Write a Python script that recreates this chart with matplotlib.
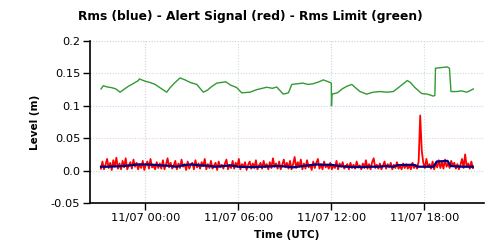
import matplotlib
matplotlib.use("Agg")
import matplotlib.pyplot as plt
import matplotlib.dates as mdates
import numpy as np
import pandas as pd

# hours relative to 11/07 00:00 (UTC)
base = pd.Timestamp("2023-11-07 00:00")

# Rms Limit (green)
limit_h = [-2.86, -2.71, -2.45, -2.17, -1.9, -1.63, -1.4, -1.1, -0.8, -0.45, -0.39,
           -0.02, 0.3, 0.63, 1.0, 1.38, 1.6, 1.92, 2.24, 2.56, 2.9, 3.32, 3.74,
           4.0, 4.3, 4.61, 5.19, 5.5, 5.9, 6.22, 6.75, 7.2, 7.83, 8.2, 8.48,
           8.9, 9.23, 9.45, 9.8, 10.17, 10.5, 10.82, 11.2, 11.48, 11.92, 12.0,
           12.01, 12.04, 12.39, 12.7, 12.99, 13.32, 13.6, 13.85, 14.28, 14.7,
           15.14, 15.6, 16.0, 16.43, 16.9, 17.1, 17.4, 17.83, 18.2, 18.58, 18.68,
           18.72, 19.1, 19.48, 19.62, 19.72, 20.09, 20.4, 20.74, 21.0, 21.16]
limit_v = [0.126, 0.131, 0.129, 0.128, 0.126, 0.121, 0.125, 0.130, 0.134, 0.139, 0.1415,
           0.138, 0.136, 0.133, 0.127, 0.121, 0.128, 0.136, 0.143, 0.140, 0.136, 0.133, 0.121,
           0.124, 0.130, 0.135, 0.137, 0.132, 0.128, 0.120, 0.121, 0.125, 0.1286, 0.127, 0.129,
           0.118, 0.120, 0.133, 0.134, 0.135, 0.133, 0.134, 0.137, 0.140, 0.136, 0.135,
           0.100, 0.118, 0.120, 0.126, 0.130, 0.133, 0.127, 0.122, 0.118, 0.121,
           0.122, 0.121, 0.122, 0.130, 0.139, 0.136, 0.128, 0.119, 0.118, 0.115, 0.116,
           0.158, 0.159, 0.160, 0.158, 0.122, 0.122, 0.123, 0.121, 0.124, 0.126]

# Rms (blue)
rms_h = [-2.86, -2.5, -2.0, -1.5, -1.0, -0.5, 0.0, 0.5, 1.0, 1.5, 2.0, 2.5, 3.0, 3.5,
         4.0, 4.5, 5.0, 5.5, 6.0, 6.5, 7.0, 7.5, 8.0, 8.5, 9.0, 9.5, 10.0, 10.5, 11.0,
         11.5, 12.0, 12.5, 13.0, 13.5, 14.0, 14.5, 15.0, 15.5, 16.0, 16.3, 17.3, 17.6,
         18.6, 18.8, 19.5, 19.7, 20.5, 21.13]
rms_v = [0.006, 0.006, 0.0065, 0.007, 0.008, 0.0095, 0.0095, 0.009, 0.008, 0.0075, 0.006,
         0.0085, 0.0095, 0.008, 0.0075, 0.006, 0.007, 0.008, 0.006, 0.0055, 0.0055, 0.006,
         0.0065, 0.007, 0.0065, 0.005, 0.0065, 0.008, 0.0095, 0.009, 0.009, 0.007, 0.006,
         0.0055, 0.0055, 0.006, 0.006, 0.007, 0.006, 0.0085, 0.009, 0.006,
         0.006, 0.014, 0.015, 0.007, 0.006, 0.006]

# Alert Signal (red), mm, one sample every 6 minutes from 11/06 21:08
alert_start = pd.Timestamp("2023-11-06 21:08")
alert_mm = [3, 14, 2, 9, 18, 4, 12, 1, 16, 6, 20, 3, 11, 2, 15, 5, 19, 2, 8, 13,
            3, 17, 6, 12, 2, 10, 4, 15, 1, 9, 14, 3, 18, 5, 7, 2, 13, 4, 11, 3,
            16, 2, 9, 19, 5, 12, 3, 8, 15, 2, 11, 4, 17, 6, 10, 1, 14, 3, 9, 12,
            2, 16, 5, 11, 3, 13, 7, 18, 2, 10, 4, 15, 3, 8, 12, 1, 14, 5, 9, 3,
            11, 17, 2, 9, 4, 15, 3, 12, 6, 18, 2, 10, 5, 13, 1, 9, 14, 3, 11, 4,
            16, 2, 8, 12, 3, 15, 5, 10, 2, 13, 4, 19, 6, 11, 3, 14, 2, 9, 17, 5,
            12, 3, 15, 2, 10, 21, 4, 13, 6, 17, 2, 11, 3, 16, 5, 9, 1, 14, 4, 12,
            18, 3, 10, 2, 14, 5, 9, 3, 12, 2, 8, 4, 15, 2, 11, 6, 13, 3, 7, 10,
            2, 12, 4, 9, 3, 14, 5, 8, 2, 11, 4, 16, 3, 10, 2, 13, 19, 4, 9, 3,
            11, 2, 8, 14, 3, 10, 5, 12, 2, 9, 4, 13, 3, 7, 2, 11, 4, 10, 3, 8,
            2, 12, 4, 9, 3, 14, 85, 31, 12, 4, 18, 6, 10, 3, 14, 2, 11, 5, 16, 4,
            13, 3, 17, 6, 11, 4, 15, 8, 12, 3, 10, 2, 9, 18, 4, 25, 6, 11, 3, 14, 4]

y_ticks = [-0.05, 0.0, 0.05, 0.1, 0.15, 0.2]
y_labels = ["-0.05", "0.0", "0.05", "0.1", "0.15", "0.2"]
grid_colors = ["#c8e2c8", "#f0c8ea", "#c4d4f2", "#c8e2c8", "#cccccc"]

t_limit = base + pd.to_timedelta(limit_h, unit="h")
t_rms = base + pd.to_timedelta(rms_h, unit="h")
t_alert = pd.date_range(alert_start, periods=len(alert_mm), freq="6min")
alert = np.array(alert_mm) / 1000.0

fig = plt.figure(figsize=(5, 2.5), dpi=100)
ax = fig.add_axes([0.18, 0.188, 0.788, 0.648])

# grid
for yv, c in zip(y_ticks[1:], grid_colors):
    ax.axhline(yv, color=c, lw=0.8, ls=(0, (1, 1.5)), zorder=0)
vcols = ["#dcc8dc", "#c8e2c8", "#c8d4e8", "#c8e2d8"]
xt = [base + pd.Timedelta(hours=h) for h in (0, 6, 12, 18)]
for xv, c in zip(xt, vcols):
    ax.axvline(xv, color=c, lw=0.8, ls=(0, (1, 1.5)), zorder=0)

ax.plot(t_limit, limit_v, color="#339933", lw=1.0, zorder=2)
ax.plot(t_alert, alert, color="#ff0000", lw=1.3, zorder=3)
ax.plot(t_rms, rms_v, color="#000080", lw=1.6, zorder=4)

ax.set_xlim(base - pd.Timedelta(hours=3.57), base + pd.Timedelta(hours=21.85))
ax.set_ylim(-0.05, 0.2)
ax.set_yticks(y_ticks)
ax.set_yticklabels(y_labels)
ax.set_xticks(xt)
ax.xaxis.set_major_formatter(mdates.DateFormatter("%m/%d %H:%M"))
ax.tick_params(direction="out", length=5, width=1, labelsize=8.2, pad=2)

for s in ("top", "right"):
    ax.spines[s].set_visible(False)
for s in ("left", "bottom"):
    ax.spines[s].set_linewidth(1.2)

ax.set_xlabel("Time (UTC)", fontsize=7.5, fontweight="bold", labelpad=5)
ax.set_ylabel("Level (m)", fontsize=7.5, fontweight="bold", labelpad=8)
fig.text(0.5, 0.935, "Rms (blue) - Alert Signal (red) - Rms Limit (green)",
         ha="center", va="center", fontsize=8.85, fontweight="bold")

fig.savefig("out.png", dpi=100)
